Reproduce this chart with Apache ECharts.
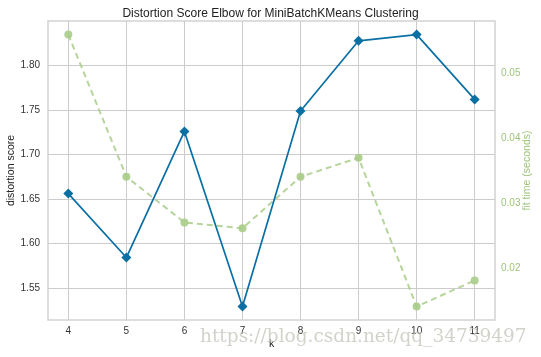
<!DOCTYPE html>
<html>
<head>
<meta charset="utf-8">
<script src="https://cdn.jsdelivr.net/npm/echarts@6/dist/echarts.min.js"></script>
<style>html,body{margin:0;padding:0;background:#fff;}#c{width:541px;height:357px;}</style>
</head>
<body>
<div id="c"></div>
<script>
var kValues = [4, 5, 6, 7, 8, 9, 10, 11];
var distortion = [1.656, 1.584, 1.726, 1.529, 1.749, 1.828, 1.835, 1.762];
var fitTime = [0.0559, 0.0341, 0.0271, 0.0262, 0.0341, 0.0370, 0.0142, 0.0182];
var xTicks = [4, 5, 6, 7, 8, 9, 10, 11];
var leftTicks = [1.55, 1.60, 1.65, 1.70, 1.75, 1.80];
var rightTicks = [0.02, 0.03, 0.04, 0.05];

var blue = '#0a6fa3';
var green = '#a9cc8a';
var greenText = '#9ec47a';
var font = 'Liberation Sans, Arial, sans-serif';

var chart = echarts.init(document.getElementById('c'), null, {renderer: 'canvas'});
chart.setOption({
  backgroundColor: '#ffffff',
  animation: false,
  title: {
    text: 'Distortion Score Elbow for MiniBatchKMeans Clustering',
    left: 'center', top: 3,
    textStyle: {fontFamily: font, fontSize: 12, fontWeight: 'normal', color: '#222'}
  },
  grid: {left: 48, right: 46, top: 21, bottom: 37, show: true, borderColor: '#d2d2d2', borderWidth: 1.5,
    containLabel: false, outerBoundsMode: 'none'},
  xAxis: {
    type: 'value', min: 3.65, max: 11.35,
    name: 'k', nameLocation: 'middle', nameGap: 19, nameMoveOverlap: false,
    nameTextStyle: {fontFamily: font, fontSize: 10.5, color: '#222'},
    axisLine: {show: false},
    axisTick: {show: false, customValues: xTicks},
    axisLabel: {customValues: xTicks, margin: 6, fontFamily: font, fontSize: 10, color: '#333'},
    splitLine: {show: true, lineStyle: {color: '#cccccc', width: 1}}
  },
  yAxis: [{
    type: 'value', min: 1.5137, max: 1.8503, position: 'left',
    name: 'distortion score', nameLocation: 'middle', nameGap: 31, nameMoveOverlap: false,
    nameTextStyle: {fontFamily: font, fontSize: 10.5, color: '#222'},
    axisLine: {show: false},
    axisTick: {show: false, customValues: leftTicks},
    axisLabel: {customValues: leftTicks, margin: 8, fontFamily: font, fontSize: 10, color: '#333',
      formatter: function (v) { return v.toFixed(2); }},
    splitLine: {show: true, lineStyle: {color: '#cccccc', width: 1}}
  }, {
    type: 'value', min: 0.01214, max: 0.05797, position: 'right',
    name: 'fit time (seconds)', nameLocation: 'middle', nameGap: 27, nameMoveOverlap: false,
    nameTextStyle: {fontFamily: font, fontSize: 10.5, color: greenText},
    axisLine: {show: false},
    axisTick: {show: false, customValues: rightTicks},
    axisLabel: {customValues: rightTicks, margin: 6, fontFamily: font, fontSize: 10, color: greenText,
      formatter: function (v) { return v.toFixed(2); }},
    splitLine: {show: false}
  }],
  series: [{
    type: 'line', yAxisIndex: 1, z: 2,
    data: kValues.map(function (k, i) { return [k, fitTime[i]]; }),
    symbol: 'circle', symbolSize: 8,
    itemStyle: {color: green, opacity: 0.9},
    lineStyle: {color: green, width: 2, type: [6, 4], opacity: 0.85}
  }, {
    type: 'line', yAxisIndex: 0, z: 3,
    data: kValues.map(function (k, i) { return [k, distortion[i]]; }),
    symbol: 'diamond', symbolSize: 10,
    itemStyle: {color: blue},
    lineStyle: {color: blue, width: 1.7}
  }],
  graphic: [{
    type: 'text', z: 100,
    style: {
      x: 200, y: 337.5, text: 'https://blog.csdn.net/qq_34739497',
      font: '18.5px "DejaVu Serif", serif', fill: 'rgba(195,195,185,0.75)',
      verticalAlign: 'middle', align: 'left'
    }
  }]
});
</script>
</body>
</html>
